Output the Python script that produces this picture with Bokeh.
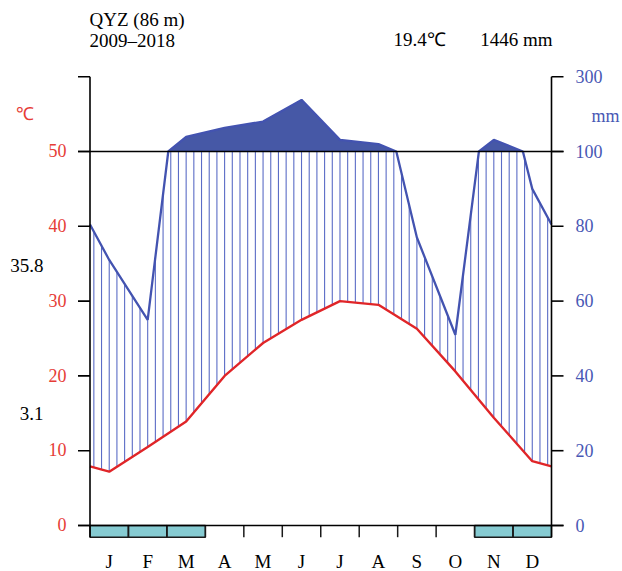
import numpy as np
from bokeh.plotting import figure
from bokeh.models import Range1d
from bokeh.core.properties import value
from bokeh.embed import file_html
from bokeh.resources import INLINE

# ---------------- data ----------------
station = "QYZ (86 m)"
period = "2009–2018"
mean_temp_label = "19.4℃"
total_prec_label = "1446 mm"
months = ["J", "F", "M", "A", "M", "J", "J", "A", "S", "O", "N", "D"]
temp = [7.2, 10.5, 13.9, 20.0, 24.4, 27.5, 30.0, 29.5, 26.3, 20.6, 14.4, 8.6]
prec = [71, 55, 139, 163, 180, 238, 131, 120, 77, 51, 131, 90]
frost = [1, 1, 1, 0, 0, 0, 0, 0, 0, 0, 1, 1]
temp_ticks = [0, 10, 20, 30, 40, 50]
temp_tick_labels = ["0", "10", "20", "30", "40", "50"]
prec_ticks = [0, 20, 40, 60, 80, 100, 300]
prec_tick_labels = ["0", "20", "40", "60", "80", "100", "300"]
abs_max_label = "35.8"
abs_min_label = "3.1"

# ---------------- layout helpers (image px -> data) ----------------
W, H = 622, 571
X0, MW = 89.5, (551.0 - 89.5) / 12.0
Y0, TS = 525.0, 7.48
TSHIFT = 7.0  # text baseline correction (px)


def dx(px):
    return (px - X0) / MW


def dy(py):
    return (Y0 - py) / TS


def ty_(py):
    return dy(py - TSHIFT)


def ptrans(p):
    p = np.asarray(p, dtype=float)
    return np.where(p <= 100, p / 2.0, 50.0 + (p - 100.0) / 20.0)


FONT = value("Liberation Serif")
RED_T = "#e63c36"
BLUE_T = "#4857b4"

p = figure(width=W, height=H, output_backend="svg", toolbar_location=None,
           x_axis_location=None, y_axis_location=None, min_border=0,
           x_range=Range1d(dx(0), dx(W)), y_range=Range1d(dy(H), dy(0)))
p.outline_line_color = None
p.xgrid.visible = False
p.ygrid.visible = False
p.background_fill_color = "white"

# ---------------- curves ----------------
mx = [i + 0.5 for i in range(12)]
wrap_t = (temp[0] + temp[-1]) / 2.0
wrap_p = (prec[0] + prec[-1]) / 2.0
tx = [0.0] + mx + [12.0]
ty = [wrap_t] + temp + [wrap_t]
px_ = [0.0] + mx + [12.0]
py_ = [wrap_p] + prec + [wrap_p]

# insert 100 mm crossings (interpolation linear in mm)
cx, cp = [px_[0]], [py_[0]]
for i in range(1, len(px_)):
    a, b = py_[i - 1], py_[i]
    if (a - 100) * (b - 100) < 0:
        f = (100 - a) / (b - a)
        cx.append(px_[i - 1] + f * (px_[i] - px_[i - 1]))
        cp.append(100.0)
    cx.append(px_[i])
    cp.append(b)
cx = np.array(cx)
ct = ptrans(cp)

# hatching
hx = np.arange(0.1, 12.0, 0.2)
h_t = np.interp(hx, tx, ty)
h_p = np.minimum(np.interp(hx, cx, ct), 50.0)
m = h_p > h_t
p.segment(x0=hx[m], y0=h_t[m], x1=hx[m], y1=h_p[m], line_color="#5b6cc6", line_width=1.1)

# wet fill above 100 mm
p.varea(x=cx, y1=np.full(len(cx), 50.0), y2=np.maximum(ct, 50.0), fill_color="#4658a6")

# precipitation line
p.line(cx, ct, line_color="#4353b0", line_width=2.3)

# temperature line
p.line(tx, ty, line_color="#e02528", line_width=2.4)

# ---------------- frame lines ----------------
tick = 12.0 / MW
box_bottom = dy(536.7)
# 100 mm / 50 C line
p.segment(x0=[-tick], y0=[50], x1=[12 + tick], y1=[50], line_color="black", line_width=1.6)
# frost boxes
fl = [i for i in range(12) if frost[i]]
p.quad(left=fl, right=[i + 1 for i in fl], top=[0] * len(fl), bottom=[box_bottom] * len(fl),
       fill_color="#86cbd2", line_color="#1a1a1a", line_width=1.4)
# month ticks
p.segment(x0=list(range(1, 12)), y0=[0] * 11, x1=list(range(1, 12)), y1=[box_bottom] * 11,
          line_color="#1a1a1a", line_width=1.5)
# axes
top = float(ptrans(prec_ticks)[-2]) + 10
p.segment(x0=[0, 12], y0=[top, top], x1=[0, 12], y1=[box_bottom, box_bottom],
          line_color="black", line_width=1.6)
# zero line
p.segment(x0=[-tick], y0=[0], x1=[12 + tick], y1=[0], line_color="black", line_width=1.6)
# left ticks
lt = temp_ticks + [top]
p.segment(x0=[-tick] * len(lt), y0=lt, x1=[0] * len(lt), y1=lt, line_color="black", line_width=1.6)
# right ticks
rt = [float(v) for v in ptrans(prec_ticks[:-1])] + [top]
p.segment(x0=[12] * len(rt), y0=rt, x1=[12 + tick] * len(rt), y1=rt, line_color="black", line_width=1.6)

# ---------------- texts ----------------
p.text(x=[dx(66)] * len(temp_ticks), y=[ty_(Y0 - v * TS + 6.2) for v in temp_ticks],
       text=temp_tick_labels, text_font=FONT, text_font_size="18px", text_color=RED_T,
       text_align="right", text_baseline="alphabetic")
p.text(x=[dx(575)] * len(rt), y=[ty_(Y0 - v * TS + 6.5) for v in rt], text=prec_tick_labels,
       text_font=FONT, text_font_size="18px", text_color=BLUE_T, text_align="left",
       text_baseline="alphabetic")
p.text(x=[dx(24.5)], y=[ty_(120)], text=["℃"], text_font=FONT, text_font_size="18px",
       text_color=RED_T, text_align="center", text_baseline="alphabetic")
p.text(x=[dx(605)], y=[ty_(122)], text=["mm"], text_font=FONT, text_font_size="18px",
       text_color=BLUE_T, text_align="center", text_baseline="alphabetic")
p.text(x=[dx(89), dx(89)], y=[ty_(26), ty_(46.5)], text=[station, period], text_font=FONT,
       text_font_size="19px", text_color="black", text_align="left", text_baseline="alphabetic")
p.text(x=[dx(393)], y=[ty_(46)], text=[mean_temp_label], text_font=FONT, text_font_size="19px",
       text_color="black", text_align="left", text_baseline="alphabetic")
p.text(x=[dx(552)], y=[ty_(46)], text=[total_prec_label], text_font=FONT, text_font_size="19px",
       text_color="black", text_align="right", text_baseline="alphabetic")
p.text(x=[dx(43), dx(43)], y=[ty_(272), ty_(420)], text=[abs_max_label, abs_min_label],
       text_font=FONT, text_font_size="19px", text_color="black", text_align="right",
       text_baseline="alphabetic")
p.text(x=mx, y=[ty_(567.5)] * 12, text=months, text_font=FONT, text_font_size="19px",
       text_color="black", text_align="center", text_baseline="alphabetic")

open("out.html", "w").write(file_html(p, INLINE))
